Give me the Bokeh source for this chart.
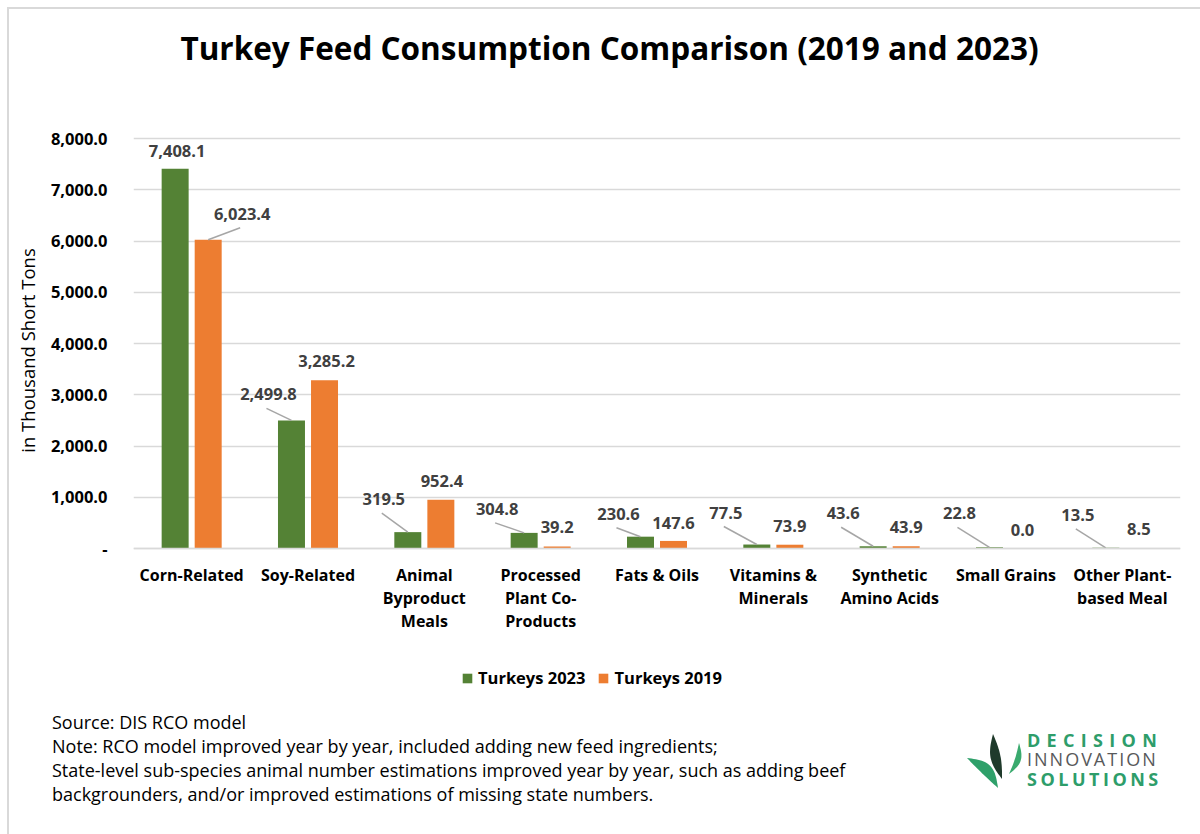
import numpy as np
from bokeh.plotting import figure
from bokeh.models import (ColumnDataSource, FixedTicker, NumeralTickFormatter, Label,
                          Legend, LegendItem, Range1d, Div)
from bokeh.embed import file_html
from bokeh.resources import INLINE
from bokeh.core.properties import value

# ---------------- data ----------------
categories = ["Corn-Related", "Soy-Related", "Animal Byproduct Meals",
              "Processed Plant Co-Products", "Fats & Oils", "Vitamins & Minerals",
              "Synthetic Amino Acids", "Small Grains", "Other Plant-based Meal"]
tick_labels = ["Corn-Related", "Soy-Related", "Animal\nByproduct\nMeals",
               "Processed\nPlant Co-\nProducts", "Fats & Oils", "Vitamins &\nMinerals",
               "Synthetic\nAmino Acids", "Small Grains", "Other Plant-\nbased Meal"]
turkeys_2023 = [7408.1, 2499.8, 319.5, 304.8, 230.6, 77.5, 43.6, 22.8, 13.5]
turkeys_2019 = [6023.4, 3285.2, 952.4, 39.2, 147.6, 73.9, 43.9, 0.0, 8.5]
y_ticks = [0, 1000, 2000, 3000, 4000, 5000, 6000, 7000, 8000]
series_names = ["Turkeys 2023", "Turkeys 2019"]

title_text = "Turkey Feed Consumption Comparison (2019 and 2023)"
y_title = "in Thousand Short Tons"
notes = ["Source: DIS RCO model",
         "Note: RCO model improved year by year, included adding new feed ingredients;",
         "State-level sub-species animal number estimations improved year by year, such as adding beef",
         "backgrounders, and/or improved estimations of missing state numbers."]
logo_words = ["DECISION", "INNOVATION", "SOLUTIONS"]

# ---------------- style / layout ----------------
FONT = "Open Sans"
GREEN = "#548235"
ORANGE = "#ED7D31"
LABEL_GREY = "#404040"
GRID = "#D9D9D9"

W, H1, H2 = 1192, 700, 130
PLOT_L, PLOT_R = 133, 1180          # window x of the category area
PLOT_T, PLOT_B = 138, 548           # window y of 8000 and 0
N = len(categories)
YMAX = 8000
PX_PER_X = (PLOT_R - PLOT_L) / N
DATA_PER_PY = YMAX / (PLOT_B - PLOT_T)

BAR_W = 0.232
DODGE = 0.142

g_off = [(2, -18), (-23, -26), (-24, -33), (-27, -24), (-22, -23), (-31, -32), (-30, -33), (-30, -34), (-28, -33)]
g_lead = [0, 1, 1, 1, 1, 1, 1, 1, 1]
o_off = [(34, -26), (2, -19), (1, -19), (0, -19), (0, -18), (0, -19), (0, -19), (0, -19), (0, -19)]
o_lead = [1, 0, 0, 0, 0, 0, 0, 0, 0]

y_start = -(H1 - PLOT_B) * DATA_PER_PY
y_end = YMAX + PLOT_T * DATA_PER_PY

p = figure(width=W, height=H1, output_backend="svg", toolbar_location=None,
           x_range=Range1d(0, N), y_range=Range1d(y_start, y_end),
           min_border_left=PLOT_L, min_border_right=W - PLOT_R,
           min_border_top=0, min_border_bottom=0,
           outline_line_color=None, background_fill_color="white",
           border_fill_color="white")
p.title.text = ""

def dx_(wx):
    return (wx - PLOT_L) / PX_PER_X

def dy_(wy):
    return (PLOT_B - wy) * DATA_PER_PY

centers = np.arange(N) + 0.5
gx = centers - DODGE
ox = centers + DODGE

src_g = ColumnDataSource(dict(x=gx, top=turkeys_2023,
                              lbl=[f"{v:,.1f}" for v in turkeys_2023],
                              dx=[o[0] for o in g_off], dy=[o[1] for o in g_off]))
src_o = ColumnDataSource(dict(x=ox, top=turkeys_2019,
                              lbl=[f"{v:,.1f}" for v in turkeys_2019],
                              dx=[o[0] for o in o_off], dy=[o[1] for o in o_off]))

rg = p.vbar(x="x", top="top", width=BAR_W, bottom=0, source=src_g, fill_color=GREEN, line_color=None)
ro = p.vbar(x="x", top="top", width=BAR_W, bottom=0, source=src_o, fill_color=ORANGE, line_color=None)

def leaders(xs, vals, offs, flags):
    x0, y0, x1, y1 = [], [], [], []
    for x, v, (dx, dy), f in zip(xs, vals, offs, flags):
        if f:
            x0.append(x + (dx - 2) / PX_PER_X)
            y0.append(v - (dy + 14) * DATA_PER_PY)
            x1.append(x)
            y1.append(v)
    return dict(x0=x0, y0=y0, x1=x1, y1=y1)

for d in (leaders(gx, turkeys_2023, g_off, g_lead), leaders(ox, turkeys_2019, o_off, o_lead)):
    p.segment(x0="x0", y0="y0", x1="x1", y1="y1", source=ColumnDataSource(d),
              line_color="#A6A6A6", line_width=1.5)

for src in (src_g, src_o):
    p.text(x="x", y="top", text="lbl", x_offset="dx", y_offset="dy", source=src,
           text_font=value(FONT), text_font_size="16.5px", text_font_style="bold",
           text_color=LABEL_GREY, text_align="center", text_baseline="middle")

# x axis drawn at value 0
p.xaxis.fixed_location = 0
p.xaxis.ticker = FixedTicker(ticks=list(centers))
p.xaxis.major_label_overrides = {float(c): t for c, t in zip(centers, tick_labels)}
p.xaxis.major_tick_line_color = None
p.xaxis.minor_tick_line_color = None
p.xaxis.axis_line_color = GRID
p.xaxis.axis_line_width = 1.5
p.xaxis.major_label_text_font = FONT
p.xaxis.major_label_text_font_size = "16px"
p.xaxis.major_label_text_font_style = "bold"
p.xaxis.major_label_text_color = "black"
p.xaxis.major_label_text_line_height = 1.05
p.xaxis.major_label_standoff = 9

p.yaxis.ticker = FixedTicker(ticks=y_ticks)
p.yaxis.bounds = (0, YMAX)
p.yaxis.formatter = NumeralTickFormatter(format="0,0.0")
p.yaxis.major_label_overrides = {0: "-"}
p.yaxis.major_tick_line_color = None
p.yaxis.minor_tick_line_color = None
p.yaxis.axis_line_color = None
p.yaxis.major_label_text_font = FONT
p.yaxis.major_label_text_font_size = "16.5px"
p.yaxis.major_label_text_font_style = "bold"
p.yaxis.major_label_text_color = "black"
p.yaxis.major_label_standoff = 20
p.yaxis.axis_label = y_title
p.yaxis.axis_label_text_font = FONT
p.yaxis.axis_label_text_font_size = "18.5px"
p.yaxis.axis_label_text_font_style = "normal"
p.yaxis.axis_label_text_color = "black"
p.yaxis.axis_label_standoff = 8

p.xgrid.grid_line_color = None
p.ygrid.grid_line_color = GRID
p.ygrid.grid_line_width = 1.3

# title
p.add_layout(Label(x=dx_(609), y=dy_(47), text=title_text, text_font=FONT,
                   text_font_size="31.5px", text_font_style="bold", text_color="black",
                   text_align="center", text_baseline="middle"))

legend = Legend(items=[LegendItem(label=series_names[0], renderers=[rg]),
                       LegendItem(label=series_names[1], renderers=[ro])],
                orientation="horizontal", location=(461 - PLOT_L, H1 - 689),
                glyph_width=12, glyph_height=12, label_standoff=5, spacing=12,
                padding=0, margin=0, border_line_color=None, background_fill_alpha=0,
                label_text_font=FONT, label_text_font_size="16.5px",
                label_text_font_style="bold", label_text_color="black", label_height=20)
p.add_layout(legend, "center")

# ---------------- notes + logo strip (HTML) ----------------
def leaf(p0, p1, width, bend):
    t = np.linspace(0, 1, 25)
    p0 = np.array(p0, float); p1 = np.array(p1, float)
    d = p1 - p0
    nrm = np.array([-d[1], d[0]]) / np.hypot(*d)
    s = np.sin(np.pi * t)
    c = p0[None, :] + t[:, None] * d[None, :] + (bend * s)[:, None] * nrm[None, :]
    a = c + (width / 2 * s)[:, None] * nrm[None, :]
    b = c - (width / 2 * s)[:, None] * nrm[None, :]
    pts = np.vstack([a, b[::-1]])
    pts[:, 1] -= H1
    return " ".join(f"{x:.1f},{y:.1f}" for x, y in pts)

leaves = [((967, 758), (998, 788), 11, -5, "#2FA06A"),
          ((993, 734), (1002, 779), 10, 2, "#1F3A2B"),
          ((1019, 743), (1009, 774), 6, -4, "#3AAA6E")]
svg = "".join(f'<polygon points="{leaf(a, b, w, bd)}" fill="{c}"/>' for a, b, w, bd, c in leaves)

note_html = "<br>".join(notes)
logo_specs = [(logo_words[0], 740, "#2E9D6A", 700, 6.3),
              (logo_words[1], 759, "#58595B", 400, 2.0),
              (logo_words[2], 778.5, "#2E9D6A", 700, 3.5)]
logo_html = "".join(
    f'<div style="position:absolute;left:1027px;top:{cy - H1 - 8:.1f}px;height:16px;line-height:16px;'
    f'font-size:18px;font-weight:{fw};letter-spacing:{ls}px;color:{col};white-space:nowrap;">{word}</div>'
    for word, cy, col, fw, ls in logo_specs)

border_html = (f'<div style="position:absolute;left:7px;top:{7 - H1}px;width:2px;height:{834 - 7}px;background:{GRID};"></div>'
               f'<div style="position:absolute;left:7px;top:{7 - H1}px;width:{1200 - 7}px;height:2px;background:{GRID};"></div>')

html = (f'<div style="position:relative;width:{W}px;height:{H2}px;font-family:\'{FONT}\';">'
        f'<div style="position:absolute;left:52px;top:{722 - H1 - 12}px;font-size:18px;line-height:24px;'
        f'color:#000;white-space:nowrap;">{note_html}</div>'
        f'<svg style="position:absolute;left:0;top:0;" width="{W}" height="{H2}">{svg}</svg>'
        f'{logo_html}{border_html}</div>')

div = Div(text=html, width=W, height=H2, styles={"margin": "0", "padding": "0"})

open("out.html", "w").write(file_html([p, div], INLINE))
